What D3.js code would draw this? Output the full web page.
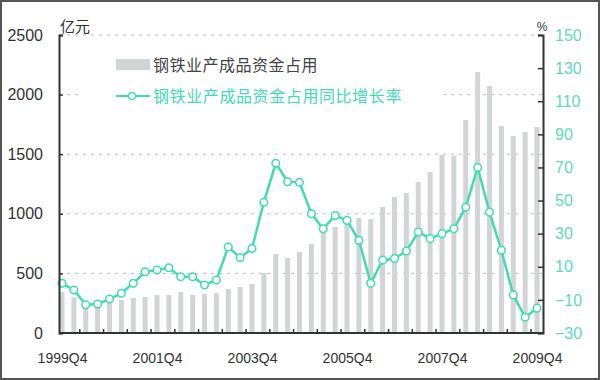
<!DOCTYPE html>
<html>
<head>
<meta charset="utf-8">
<script src="https://cdn.jsdelivr.net/npm/d3@7/dist/d3.min.js"></script>
<style>
  body { margin: 0; background: #fff; }
  svg { display: block; }
  text { font-family: "Liberation Sans", "Noto Sans CJK SC", sans-serif; }
</style>
</head>
<body>
<script>
// quarters 1999Q4 .. 2009Q4
var quarters = [];
for (var yr = 1999; yr <= 2009; yr++) {
  for (var q = 1; q <= 4; q++) {
    if (yr === 1999 && q < 4) continue;
    quarters.push(yr + "Q" + q);
  }
}
quarters = quarters.slice(0, 41);

// 钢铁业产成品资金占用 (亿元)
var funds = [345, 300, 220, 260, 260, 277, 293, 302, 319, 319,
  344, 319, 327, 335, 369, 386, 411, 503, 663, 629,
  680, 747, 847, 889, 931, 965, 956, 1057, 1141, 1174,
  1267, 1351, 1493, 1485, 1787, 2190, 2072, 1737, 1653, 1686,
  1728];

// 同比增长率 (%)
var growth = [0, -4, -13, -12.5, -9.5, -6, 0, 7, 8, 9.4,
  4, 4, -1, 2, 22, 15.5, 21, 49, 72.5, 61.4,
  61, 42, 33, 41, 38, 26, 0, 14, 15, 19.5,
  31, 27, 30, 33, 46, 70, 43, 20, -7, -20.5,
  -15];

var leftTicks = [0, 500, 1000, 1500, 2000, 2500];
var rightTicks = [-30, -10, 10, 30, 50, 70, 90, 110, 130, 150];
var xLabels = ["1999Q4", "2001Q4", "2003Q4", "2005Q4", "2007Q4", "2009Q4"];

var barName = "钢铁业产成品资金占用";
var lineName = "钢铁业产成品资金占用同比增长率";

var width = 600, height = 380;
var plotLeft = 59, plotRight = 543, plotTop = 35, plotBottom = 333;
var teal = "#42dbb4";

var svg = d3.select("body").append("svg")
  .attr("width", width)
  .attr("height", height);

svg.append("rect")
  .attr("x", 1).attr("y", 1)
  .attr("width", width - 2).attr("height", height - 2)
  .attr("fill", "#fff")
  .attr("stroke", "#555")
  .attr("stroke-width", 2);

var x = d3.scalePoint().domain(quarters).range([62, 537]);
var step = x.step();
var yL = d3.scaleLinear().domain([0, 2500]).range([plotBottom, plotTop]);
var yR = d3.scaleLinear().domain([-30, 150]).range([plotBottom, plotTop]);

// gridlines
svg.append("g")
  .selectAll("line")
  .data(leftTicks.slice(1))
  .enter()
  .append("line")
  .attr("x1", plotLeft).attr("x2", plotRight)
  .attr("y1", function (d) { return yL(d); })
  .attr("y2", function (d) { return yL(d); })
  .attr("stroke", "#bbb")
  .attr("stroke-dasharray", "3,5");

// legend background hides grid
svg.append("rect")
  .attr("x", 82).attr("y", 48)
  .attr("width", 362).attr("height", 60)
  .attr("fill", "#fff");

// bars
svg.append("g")
  .selectAll("rect")
  .data(funds)
  .enter()
  .append("rect")
  .attr("x", function (d, i) { return x(quarters[i]) - 2.5; })
  .attr("y", function (d) { return yL(d); })
  .attr("width", 5)
  .attr("height", function (d) { return plotBottom - yL(d); })
  .attr("fill", "#d2d5d5");

// line
var line = d3.line()
  .x(function (d, i) { return x(quarters[i]); })
  .y(function (d) { return yR(d); });

svg.append("path")
  .datum(growth)
  .attr("d", line)
  .attr("fill", "none")
  .attr("stroke", teal)
  .attr("stroke-width", 2.5);

svg.append("g")
  .selectAll("circle")
  .data(growth)
  .enter()
  .append("circle")
  .attr("cx", function (d, i) { return x(quarters[i]); })
  .attr("cy", function (d) { return yR(d); })
  .attr("r", 3.8)
  .attr("fill", "#fff")
  .attr("stroke", teal)
  .attr("stroke-width", 1.5);

// axes
var axisL = d3.axisLeft(yL)
  .tickValues(leftTicks)
  .tickFormat(d3.format("d"))
  .tickSize(-4)
  .tickPadding(16);
var gL = svg.append("g")
  .attr("transform", "translate(" + plotLeft + ",0)")
  .call(axisL);

var axisR = d3.axisRight(yR).tickValues(rightTicks).tickSize(-5).tickPadding(12);
var gR = svg.append("g")
  .attr("transform", "translate(" + plotRight + ",0)")
  .call(axisR);

var axisB = d3.axisBottom(x)
  .tickValues(xLabels)
  .tickSize(0)
  .tickPadding(20);
var gB = svg.append("g")
  .attr("transform", "translate(0," + plotBottom + ")")
  .call(axisB);

[gL, gR, gB].forEach(function (g) {
  g.select(".domain").attr("stroke", "#333").attr("stroke-width", 2);
  g.selectAll("line").attr("stroke", "#333").attr("stroke-width", 1.5);
  g.selectAll("text").attr("font-size", 16)
    .style("font-family", "'Liberation Sans', sans-serif");
});
gL.selectAll("text").attr("fill", "#333");
gR.selectAll("text").attr("fill", "#62d9bb");
gB.selectAll("text").attr("fill", "#333").attr("font-size", 14);
gB.select(".domain").attr("d", "M" + plotLeft + ",0H" + plotRight);

// x ticks between quarter pairs
svg.append("g")
  .selectAll("line")
  .data(quarters.filter(function (d, i) { return i % 2 === 1 && i < 40; }))
  .enter()
  .append("line")
  .attr("x1", function (d) { return x(d) + step / 2; })
  .attr("x2", function (d) { return x(d) + step / 2; })
  .attr("y1", plotBottom)
  .attr("y2", plotBottom - 4)
  .attr("stroke", "#333")
  .attr("stroke-width", 1.5);

// unit labels
svg.append("text")
  .attr("x", 60).attr("y", 32)
  .attr("font-size", 15)
  .attr("fill", "#333")
  .style("font-family", "'Noto Sans CJK SC', sans-serif")
  .text("亿元");
svg.append("text")
  .attr("x", 542).attr("y", 31)
  .attr("text-anchor", "middle")
  .attr("font-size", 12)
  .attr("fill", "#333")
  .text("%");

// legend
svg.append("rect")
  .attr("x", 116).attr("y", 59)
  .attr("width", 34).attr("height", 11)
  .attr("fill", "#d2d5d5");
svg.append("text")
  .attr("x", 153).attr("y", 71)
  .attr("font-size", 16)
  .attr("letter-spacing", 0.5)
  .attr("fill", "#444")
  .style("font-family", "'Noto Sans CJK SC', sans-serif")
  .text(barName);

svg.append("line")
  .attr("x1", 116).attr("x2", 150)
  .attr("y1", 96).attr("y2", 96)
  .attr("stroke", teal)
  .attr("stroke-width", 2);
svg.append("circle")
  .attr("cx", 132).attr("cy", 96).attr("r", 3.5)
  .attr("fill", "#fff")
  .attr("stroke", teal)
  .attr("stroke-width", 1.5);
svg.append("text")
  .attr("x", 153).attr("y", 102)
  .attr("font-size", 16)
  .attr("letter-spacing", 0.6)
  .attr("fill", teal)
  .style("font-family", "'Noto Sans CJK SC', sans-serif")
  .text(lineName);
</script>
</body>
</html>
